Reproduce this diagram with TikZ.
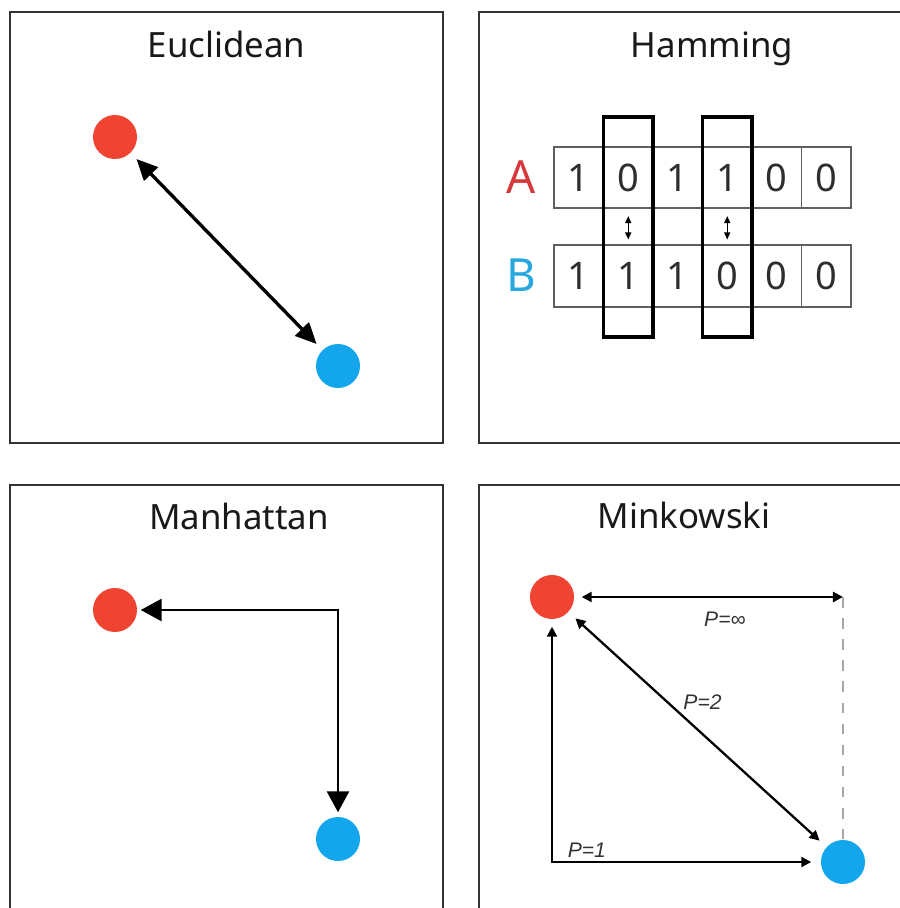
\documentclass[tikz,border=0pt]{standalone}
\usepackage{fontspec}
\setmainfont{Noto Sans}
\newfontfamily\plabelfont{Liberation Sans}
\usepackage{tikz}
\usetikzlibrary{arrows.meta}
\usetikzlibrary{positioning}

\definecolor{dotred}{RGB}{240,68,50}
\definecolor{dotblue}{RGB}{20,166,236}
\definecolor{letterred}{RGB}{214,57,59}
\definecolor{letterblue}{RGB}{41,168,224}
\definecolor{cellgray}{RGB}{95,95,95}

\tikzset{
  panel/.style={draw=black!80, line width=0.6pt},
  title/.style={anchor=base, text=black!90, font=\fontsize{9.9}{12}\selectfont},
  dot/.style={circle, minimum size=0.44cm, inner sep=0pt},
  reddot/.style={dot, fill=dotred},
  bluedot/.style={dot, fill=dotblue},
  bigarrow/.style={line width=0.95pt, {Triangle[length=2.1mm,width=1.9mm]}-{Triangle[length=2.1mm,width=1.9mm]}},
  cityarrow/.style={line width=0.8pt, {Triangle[length=2.1mm,width=2.2mm]}-{Triangle[length=2.1mm,width=2.2mm]}},
  minkarrow/.style={line width=0.65pt, {Triangle[length=1mm,width=1mm]}-{Triangle[length=1mm,width=1mm]}},
  tinyarrow/.style={line width=0.4pt, {Triangle[length=0.7mm,width=0.6mm]}-{Triangle[length=0.7mm,width=0.6mm]}},
  cell/.style={draw=cellgray, line width=0.45pt, minimum width=0.495cm, minimum height=0.615cm,
    inner sep=0pt, text=black!82, font=\fontsize{10.8}{12}\selectfont},
  bitcol/.style={draw=black, line width=0.9pt, minimum width=0.495cm, minimum height=2.2cm, inner sep=0pt},
  rowname/.style={font=\fontsize{13}{14}\selectfont},
  plabel/.style={font=\plabelfont\itshape\fontsize{6}{7}\selectfont, text=black!80, inner sep=1pt}
}

\begin{document}
\begin{tikzpicture}[x=0.01cm, y=-0.01cm]
  \useasboundingbox (0,0) rectangle (900,908);
  \clip (0,0) rectangle (900,908);

  % frames
  \draw[panel] (10,12) rectangle (443,443);
  \draw[panel] (479,12) rectangle (920,443);
  \draw[panel] (10,485) rectangle (443,930);
  \draw[panel] (479,485) rectangle (920,930);

  \node[title] (t1) at (226.5,57) {Euclidean};
  \node[title] (t2) at (712,57) {Hamming};
  \node[title] (t3) at (239,529) {Manhattan};
  \node[title] (t4) at (684,528) {Minkowski};

  % Euclidean
  \node[reddot] (eR) at (115,137) {};
  \node[bluedot] (eB) at (338,366) {};
  \draw[bigarrow, shorten <=0.08cm, shorten >=0.08cm] (eR) -- (eB);

  % Hamming
  \node[rowname, text=letterred] (la) at (521,177) {A};
  \node[rowname, text=letterblue] (lb) at (521,275) {B};
  \foreach \b [count=\i] in {1,0,1,1,0,0}
    \node[cell] (a\i) at ({529.25+49.5*\i},177.5) {\b};
  \foreach \b [count=\i] in {1,1,1,0,0,0}
    \node[cell] (b\i) at ({529.25+49.5*\i},276) {\b};
  \foreach \i in {2,4} {
    \node[bitcol] (c\i) at (a\i |- 0,227) {};
    \draw[tinyarrow, shorten <=0.07cm, shorten >=0.05cm] (a\i.south) -- (b\i.north);
  }

  % Manhattan
  \node[reddot] (nR) at (115,610) {};
  \node[bluedot] (nB) at (338,839) {};
  \draw[cityarrow, shorten <=0.03cm, shorten >=0.04cm] (nR) -| (nB);

  % Minkowski
  \node[reddot] (mR) at (552,597) {};
  \node[bluedot] (mB) at (843,862) {};
  \coordinate (mT) at (mB |- mR);
  \draw[minkarrow, shorten <=0.07cm] (mR) -- (mT) node[plabel, pos=0.56, below=3pt] {P=∞};
  \draw[gray!70, dashed, line width=0.5pt] (mT) -- (mB.north);
  \draw[minkarrow, shorten <=0.09cm, shorten >=0.09cm] (mR) -- (mB)
    node[plabel, midway, above=4.5pt, xshift=0.05cm] {P=2};
  \draw[minkarrow, shorten <=0.07cm, shorten >=0.09cm] (mR.south) |- (mB.west)
    node[plabel, pos=0.565, above=0pt] {P=1};
\end{tikzpicture}
\end{document}
